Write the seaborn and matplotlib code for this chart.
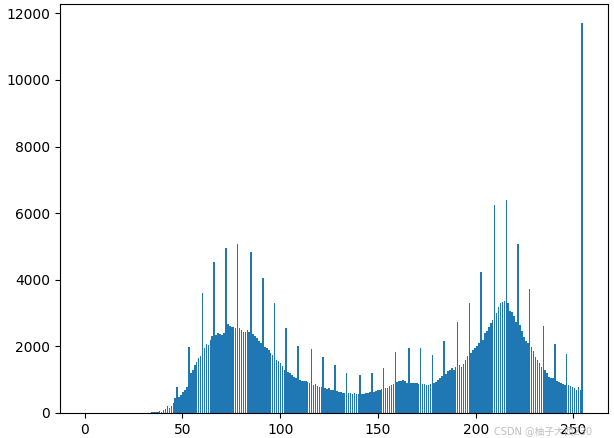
import numpy as np
import matplotlib
matplotlib.use("Agg")
import matplotlib.pyplot as plt
import seaborn as sns

# grey levels 0..255 and pixel counts
levels = list(range(256))
counts = [0] * 34 + [
    20, 30, 20, 40, 50, 40, 80, 120, 200, 150,            # 34-43
    220, 300, 450, 790, 490, 540, 640, 700, 780, 1990,    # 44-53
    1200, 1290, 1450, 1540, 1650, 1700, 3600, 1950, 2070, 2050,  # 54-63
    2200, 2300, 4540, 2340, 2390, 2380, 2350, 2400, 4960, 2660,  # 64-73
    2620, 2590, 2590, 2560, 5060, 2560, 2500, 2440, 2420, 2480,  # 74-83
    2440, 4840, 2370, 2300, 2250, 2150, 2100, 4060, 1990, 1950,  # 84-93
    1890, 1800, 1740, 3290, 1580, 1560, 1490, 1400, 1290, 2540,  # 94-103
    1240, 1190, 1150, 1090, 1040, 2010, 990, 960, 960, 960,      # 104-113
    930, 890, 1910, 840, 860, 800, 770, 780, 1670, 740,          # 114-123
    720, 740, 690, 680, 1440, 650, 640, 620, 600, 610,           # 124-133
    1210, 590, 600, 580, 590, 570, 570, 1140, 560, 580,          # 134-143
    590, 600, 620, 1210, 640, 670, 690, 700, 710, 1340,          # 144-153
    740, 760, 800, 840, 870, 1840, 930, 970, 970, 980,           # 154-163
    950, 910, 1940, 910, 900, 910, 890, 880, 1940, 880,          # 164-173
    860, 840, 830, 860, 1740, 890, 930, 990, 1050, 1120,         # 174-183
    2170, 1170, 1250, 1300, 1340, 1300, 1390, 2740, 1440, 1390,  # 184-193
    1480, 1590, 1700, 3290, 1800, 1890, 1950, 2000, 2090, 4240,  # 194-203
    2200, 2390, 2450, 2590, 2700, 2790, 6240, 3000, 3190, 3300,  # 204-213
    3340, 3370, 6390, 3300, 3070, 3040, 2900, 2740, 5070, 2640,  # 214-223
    2450, 2290, 2150, 2090, 3710, 1990, 1850, 1690, 1590, 1490,  # 224-233
    1390, 2610, 1290, 1190, 1090, 1060, 1040, 2070, 960, 940,    # 234-243
    910, 880, 840, 1770, 840, 800, 790, 760, 690, 770,           # 244-253
    700, 11700,                                                  # 254-255
]
watermark = "CSDN @柚子大西230"

fig = plt.figure(figsize=(6.14, 4.38), dpi=100)
ax = fig.add_axes([0.0977, 0.0571, 0.8925, 0.934])

# shrink a bit so the thin bars get the gaps / lighter edges seen in the original
sns.histplot(x=levels, weights=counts, bins=256, binrange=(0, 255),
             color="#1f77b4", alpha=1, linewidth=0, shrink=0.82, ax=ax)
ax.set_ylabel("")
ax.set_xlabel("")

# faint site watermark in the lower right corner
fig.text(0.965, 0.004, watermark, ha="right", va="bottom", fontsize=7,
         color="#b8b8b8", alpha=0.9, family=["DejaVu Sans", "Noto Sans CJK SC"])

fig.savefig("out.png", dpi=100)
